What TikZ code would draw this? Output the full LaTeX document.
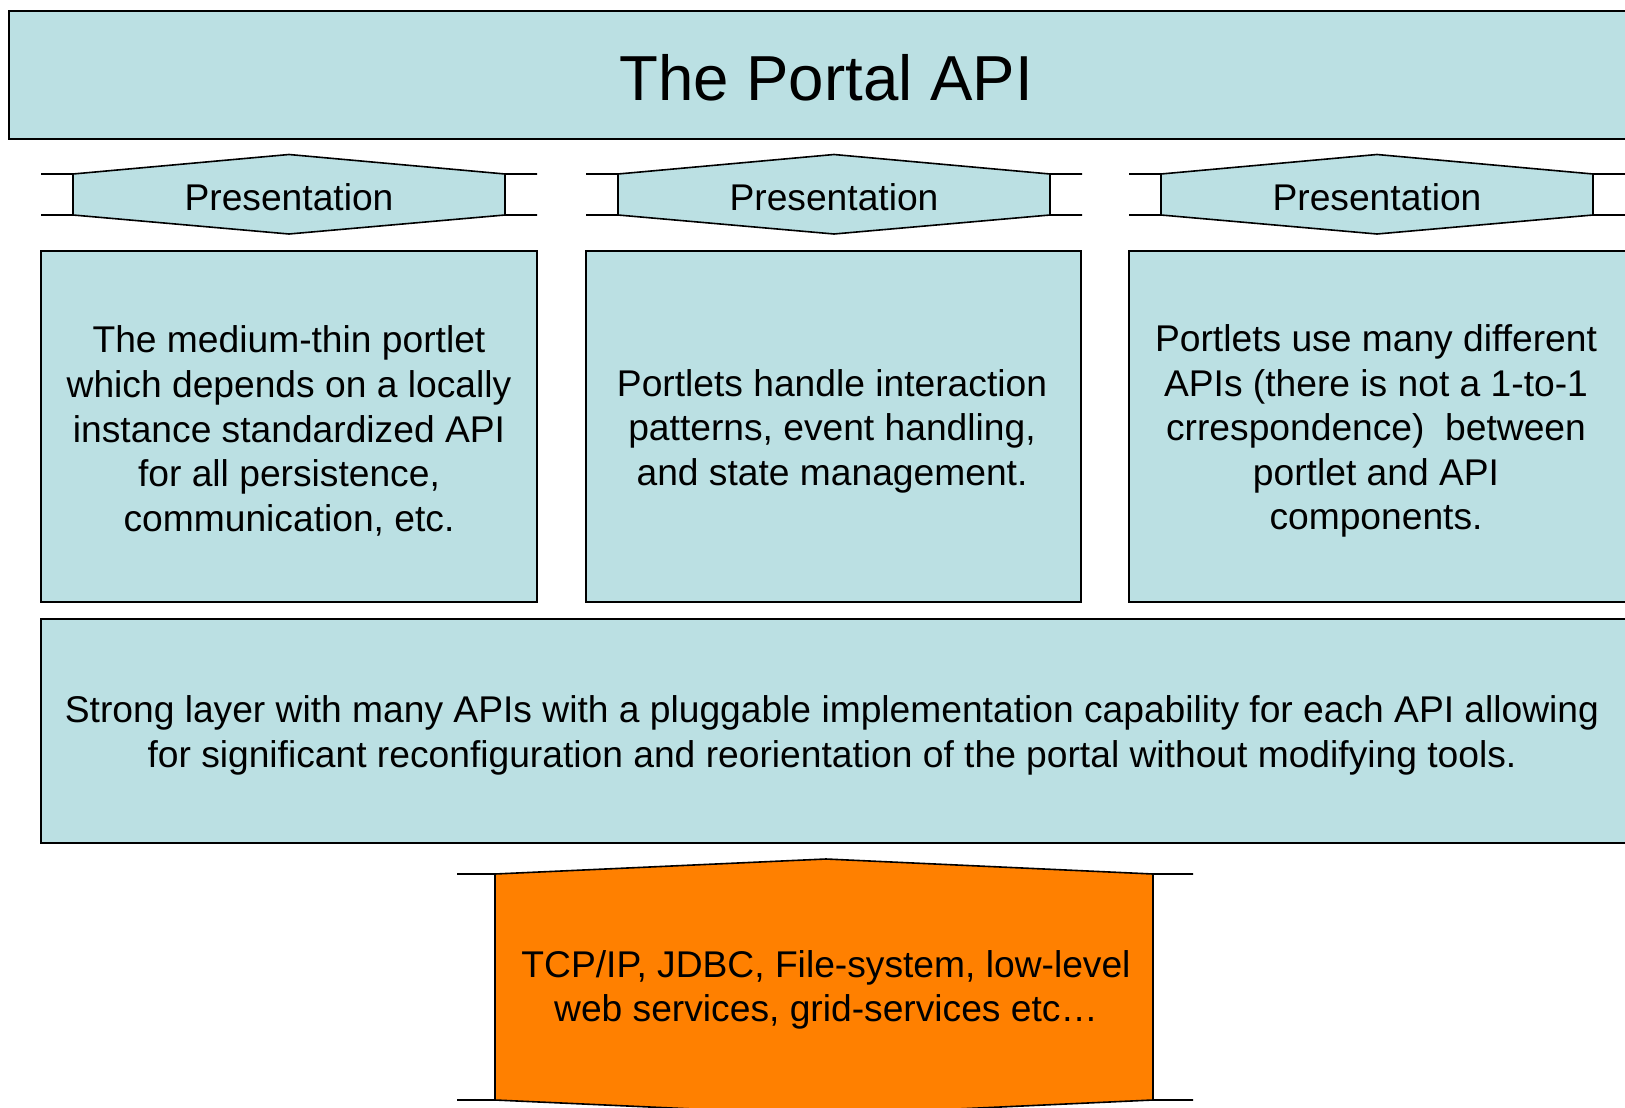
\documentclass[tikz,border=0pt]{standalone}
\usepackage{fontspec}
\setmainfont{Liberation Sans}
\definecolor{lblue}{HTML}{BBE0E3}
\definecolor{orng}{HTML}{FF8000}
\tikzset{
  body/.style={font=\fontsize{37.2}{44.6}\selectfont, align=center, inner sep=0pt},
  boxst/.style={draw=black, line width=1.6pt, fill=lblue},
  edge/.style={draw=black, line width=1.6pt, line join=miter},
}
\newcommand{\presshape}[2]{% #1 = left x, #2 = name
  \fill[lblue] (#1+32,174) -- (#1+248,154.5) -- (#1+464,174) -- (#1+464,215) -- (#1+248,234) -- (#1+32,215) -- cycle;
  \draw[edge] (#1,174) -- (#1+32,174) -- (#1+248,154.5) -- (#1+464,174) -- (#1+496,174);
  \draw[edge] (#1,215) -- (#1+32,215) -- (#1+248,234) -- (#1+464,215) -- (#1+496,215);
  \draw[edge] (#1+32,174) -- (#1+32,215);
  \draw[edge] (#1+464,174) -- (#1+464,215);
  \node[body] (#2) at (#1+248,197) {Presentation};
}
\begin{document}
\begin{tikzpicture}[x=1pt,y=-1pt]
\clip (0,0) rectangle (1625,1108);
\fill[white] (0,0) rectangle (1625,1108);
% title
\draw[draw=black, line width=2.2pt, fill=lblue] (9,11) rectangle (1660,139);
\node[font=\fontsize{63.6}{70}\selectfont, inner sep=0pt] (title) at (826,78) {The Portal API};
% presentation shapes
\presshape{41}{p1}
\presshape{586}{p2}
\presshape{1129}{p3}
% boxes
\draw[boxst] (41,251) rectangle (537,602);
\draw[boxst] (586,251) rectangle (1081,602);
\draw[boxst] (1129,251) rectangle (1660,602);
\node[body] (t1) at (289,431) {The medium-thin portlet\\which depends on a locally\\instance standardized API\\for all persistence,\\communication, etc.};
\node[body] (t2) at (832,431) {Portlets handle interaction\\patterns, event handling,\\and state management.};
\node[body] (t3) at (1376,431) {Portlets use many different\\APIs (there is not a 1-to-1\\crrespondence)\ \ between\\portlet and API\\components.};
% big box
\draw[boxst] (41,619) rectangle (1660,843);
\node[body] (big) at (832,735.5) {Strong layer with many APIs with a pluggable implementation capability for each API allowing\\for significant reconfiguration and reorientation of the portal without modifying tools.};
% orange
\fill[orng] (495,874) -- (826,859) -- (1153,874) -- (1153,1100) -- (826,1115) -- (495,1100) -- cycle;
\draw[edge] (457,874) -- (495,874) -- (826,859) -- (1153,874) -- (1193,874);
\draw[edge] (457,1100) -- (495,1100) -- (826,1115) -- (1153,1100) -- (1193,1100);
\draw[edge] (495,874) -- (495,1100);
\draw[edge] (1153,874) -- (1153,1100);
\node[body] (low) at (826,990) {TCP/IP, JDBC, File-system, low-level\\web services, grid-services etc…};
\end{tikzpicture}
\end{document}
